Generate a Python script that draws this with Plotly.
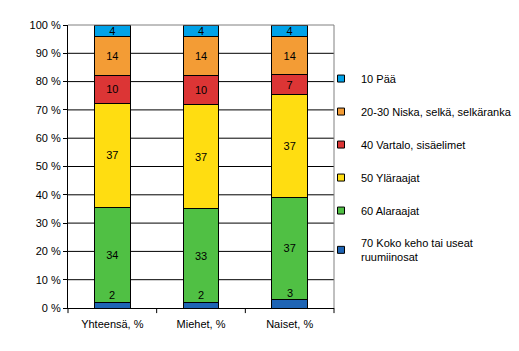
import plotly.graph_objects as go

categories = ["Yhteensä, %", "Miehet, %", "Naiset, %"]
series_names = [
    "70 Koko keho tai useat<br>ruumiinosat",
    "60 Alaraajat",
    "50 Yläraajat",
    "40 Vartalo, sisäelimet",
    "20-30 Niska, selkä, selkäranka",
    "10 Pää",
]
koko_keho = [2, 2, 3]
alaraajat = [34, 33, 37]
ylaraajat = [37, 37, 37]
vartalo = [10, 10, 7]
niska = [14, 14, 14]
paa = [4, 4, 4]
colors = ["#1e64b4", "#50c044", "#ffdd11", "#dc3535", "#f39c35", "#00a2e8"]
y_ticks = list(range(0, 101, 10))

series = [koko_keho, alaraajat, ylaraajat, vartalo, niska, paa]
totals = [sum(s[i] for s in series) for i in range(len(categories))]
pcts = [[v / t * 100 for v, t in zip(s, totals)] for s in series]
xpos = list(range(len(categories)))
n = len(categories)

FONT = "Liberation Sans, Arial, sans-serif"
fig = go.Figure()

# gridlines on the base axes (drawn beneath the overlay subplot holding the bars)
gx, gy = [], []
for t in y_ticks[1:-1]:
    gx += [-0.5, n - 0.5, None]
    gy += [t, t, None]
fig.add_trace(go.Scatter(x=gx, y=gy, mode="lines", line=dict(color="black", width=1),
                         showlegend=False, hoverinfo="skip", xaxis="x", yaxis="y"))

for k, (name, vals, pc, col) in enumerate(zip(series_names, series, pcts, colors)):
    fig.add_trace(go.Bar(
        x=xpos, y=pc, name=name, xaxis="x2", yaxis="y2",
        marker=dict(color=col, line=dict(color="black", width=1)),
        text=[str(v) for v in vals] if k > 0 else None,
        textposition="inside", insidetextanchor="middle", constraintext="none",
        textangle=0,
        textfont=dict(family=FONT, size=11, color="black"),
        showlegend=False, hoverinfo="skip",
    ))
# bottom series labels just above the thin segment
for xp, v, p in zip(xpos, koko_keho, pcts[0]):
    fig.add_annotation(x=xp, y=p, xref="x2", yref="y2", text=str(v), showarrow=False,
                       yanchor="bottom", yshift=-1,
                       font=dict(family=FONT, size=11, color="black"))

# legend entries (small square swatches), listed top segment first
for k in reversed(range(len(series_names))):
    fig.add_trace(go.Scatter(
        x=[xpos[0]], y=[None], mode="markers", name=series_names[k],
        legendgroup=str(k), xaxis="x2", yaxis="y2",
        marker=dict(symbol="square", size=7, color=colors[k],
                    line=dict(color="black", width=1)),
        hoverinfo="skip",
    ))

shapes = [
    dict(type="line", xref="paper", yref="paper", x0=0, x1=1, y0=1, y1=1,
         line=dict(color="#808080", width=1)),
    dict(type="line", xref="paper", yref="paper", x0=1, x1=1, y0=0, y1=1,
         line=dict(color="#808080", width=1)),
]
# category boundary tick marks under the x axis
for b in range(n + 1):
    shapes.append(dict(type="line", xref="paper", yref="paper",
                       x0=b / n, x1=b / n, y0=0, y1=-0.018,
                       line=dict(color="black", width=1)))

fig.update_layout(
    template="none",
    width=519, height=351,
    margin=dict(l=68, r=185, t=25, b=43, autoexpand=False),
    paper_bgcolor="white", plot_bgcolor="white",
    barmode="stack", bargap=0.6,
    font=dict(family=FONT, size=11, color="black"),
    legend=dict(x=321 / 519, xref="container", xanchor="left", y=0.862, yanchor="top",
                traceorder="grouped", tracegroupgap=14, itemwidth=30,
                bgcolor="rgba(0,0,0,0)",
                font=dict(family=FONT, size=11, color="black")),
    shapes=shapes,
    xaxis=dict(range=[-0.5, n - 0.5], tickvals=xpos, ticktext=categories,
               showline=True, linecolor="black", linewidth=1, ticks="",
               showgrid=False, zeroline=False, ticklabelstandoff=6),
    yaxis=dict(range=[0, 100], tickvals=y_ticks,
               ticktext=[f"{t} %" for t in y_ticks], showline=True,
               linecolor="black", linewidth=1, ticks="outside", ticklen=4,
               tickcolor="black", tickwidth=1, showgrid=False, zeroline=False),
    xaxis2=dict(overlaying="x", range=[-0.5, n - 0.5], visible=False),
    yaxis2=dict(overlaying="y", range=[0, 100], visible=False),
)
fig.write_html("out.html", config={"staticPlot": True})
